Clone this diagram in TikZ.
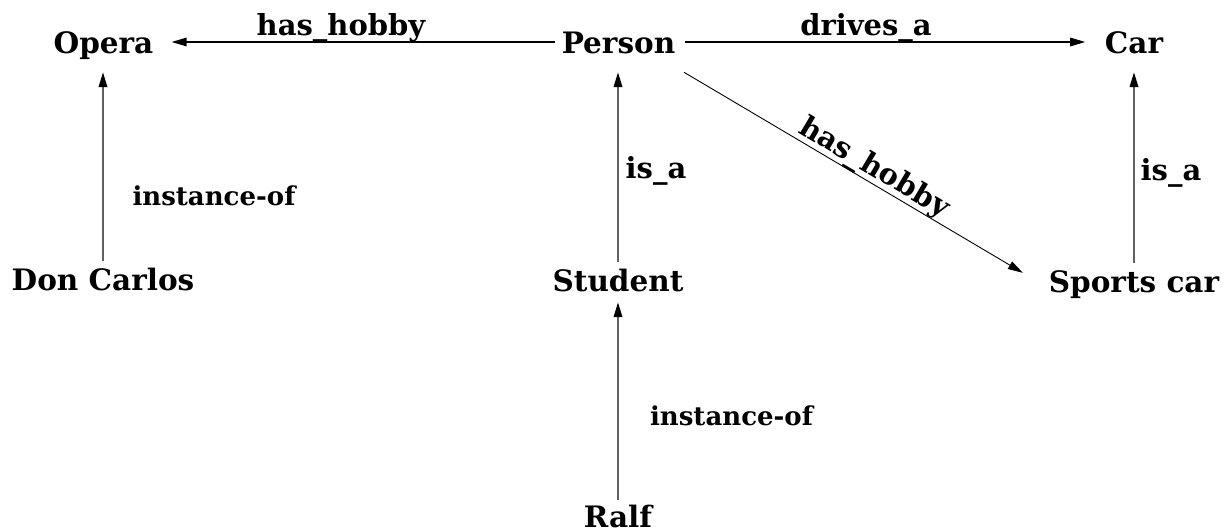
\documentclass[tikz,border=0pt]{standalone}
\usepackage{fontspec}
\setmainfont{DejaVu Serif}
\usetikzlibrary{arrows.meta,calc}
\begin{document}
\begin{tikzpicture}[x=1pt,y=-1pt,
  concept/.style={font=\fontsize{29.5}{31}\selectfont\bfseries, inner sep=0pt, text height=26pt, text depth=4pt, anchor=base},
  rel/.style={font=\fontsize{29}{31}\selectfont\bfseries, inner sep=0pt, anchor=base},
  inst/.style={font=\fontsize{26}{28}\selectfont\bfseries, inner sep=0pt, anchor=base},
  tip/.style={-{Triangle[length=15pt,width=8.5pt,color=black]}},
  harr/.style={tip, draw=black, line width=1.4pt},
  varr/.style={tip, draw=black!62, line width=2pt},
  darr/.style={tip, draw=black, line width=0.9pt}]
\useasboundingbox (0,0) rectangle (1226,531);
% concepts
\node[concept, minimum width=97pt]  (opera)   at (103.5,53) {Opera};
\node[concept, minimum width=113pt] (person)  at (618.5,53) {Person};
\node[concept, minimum width=57pt]  (car)     at (1134,53) {Car};
\node[concept, minimum width=180pt] (dc)      at (103,290) {Don Carlos};
\node[concept, minimum width=131pt] (student) at (618,291) {Student};
\node[concept, minimum width=172pt] (sc)      at (1134,292) {Sports car};
\node[concept, minimum width=67pt, text depth=1pt]  (ralf) at (618,527) {Ralf};
% connectors
\draw[harr, shorten <=7pt, shorten >=18pt] (person.west) -- (opera.east);
\draw[harr, shorten <=9.5pt, shorten >=19.5pt] (person.east) -- (car.west);
\draw[varr, shorten <=3pt, shorten >=15pt] (dc.north) -- (dc.north |- opera.south);
\draw[varr, shorten <=3pt, shorten >=15pt] (student.north) -- (student.north |- person.south);
\draw[varr, shorten <=3pt, shorten >=15pt] (sc.north) -- (sc.north |- car.south);
\draw[varr, shorten <=1pt, shorten >=7pt] (ralf.north) -- (ralf.north |- student.south);
\draw[darr] ($(person.south east)+(8.5,15)$) -- node[rel, sloped, pos=0.54, anchor=south, yshift=-1pt] (lhh2) {has\_hobby} ($(sc.north west)+(-25,7)$);
% labels
\node[rel] (lhh1) at (341,35) {has\_hobby};
\node[rel] (ldr) at (866,35) {drives\_a};
\node[rel] (lis1) at (656,178) {is\_a};
\node[rel] (lis2) at (1171,180) {is\_a};
\node[inst] (lin1) at (214,205) {instance-of};
\node[inst] (lin2) at (731.5,425) {instance-of};
\end{tikzpicture}
\end{document}
